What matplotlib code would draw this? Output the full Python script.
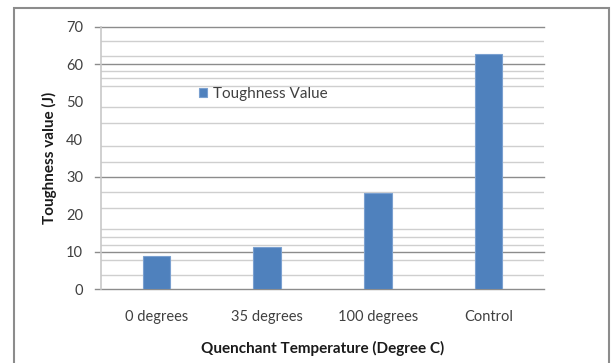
import matplotlib.pyplot as plt
from matplotlib.patches import Rectangle

categories = ['0 degrees', '35 degrees', '100 degrees', 'Control']
toughness = [9.0, 11.4, 25.7, 62.6]
y_ticks = [0, 10, 20, 30, 40, 50, 60, 70]

# grid lines as they appear on the chart: darker ones carry a tick mark
dark_lines = [0, 10, 30, 60, 70]
light_lines = [3.7, 7.9, 11.9, 13.9, 16.0, 21.7, 25.9, 34.0, 38.2,
               44.3, 48.6, 54.1, 56.3, 58.2, 62.3, 66.3]

plt.rcParams['font.family'] = ['Lato', 'DejaVu Sans']

fig = plt.figure(figsize=(6.15, 3.63), dpi=100)
ax = fig.add_axes([0.1642, 0.2030, 0.7204, 0.7234])

for v in light_lines:
    ax.axhline(v, color='#cfcfcf', lw=1.0, zorder=1)
for v in dark_lines:
    ax.axhline(v, xmin=-0.0135, xmax=1, color='#8c8c8c', lw=1.0,
               zorder=1, clip_on=False)

x = range(len(categories))
ax.bar(x, toughness, width=0.25, color='#4f81bd', edgecolor='#7aa0d0',
       linewidth=0.8, zorder=2, label='Toughness Value')

ax.set_xlim(-0.5, 3.5)
ax.set_ylim(0, 70)
ax.set_yticks(y_ticks)
ax.set_xticks(list(x))
ax.set_xticklabels(categories)
ax.tick_params(axis='y', length=0, pad=13, labelsize=10.5, labelcolor='#404040')
ax.tick_params(axis='x', length=0, pad=15, labelsize=10.5, labelcolor='#404040')

for s in ['top', 'right', 'bottom']:
    ax.spines[s].set_visible(False)
ax.spines['left'].set_color('#c8c8c8')
ax.spines['left'].set_linewidth(1.2)

ax.set_ylabel('Toughness value (J)', fontsize=11, fontweight='bold',
              labelpad=6, color='#1a1a1a')
ax.set_xlabel('Quenchant Temperature (Degree C)', fontsize=11,
              fontweight='bold', labelpad=12, color='#1a1a1a')

ax.legend(loc='center left', bbox_to_anchor=(0.19, 0.745), frameon=False,
          fontsize=11, handlelength=0.55, handleheight=0.55, handletextpad=0.4,
          labelcolor='#404040')

# outer chart frame
fig.patches.append(Rectangle((14 / 615, -0.1), (609 - 14) / 615, 1.1 - 8 / 363,
                             transform=fig.transFigure, fill=False,
                             edgecolor='#8c8c8c', lw=1.5))

fig.savefig('out.png', dpi=100)
